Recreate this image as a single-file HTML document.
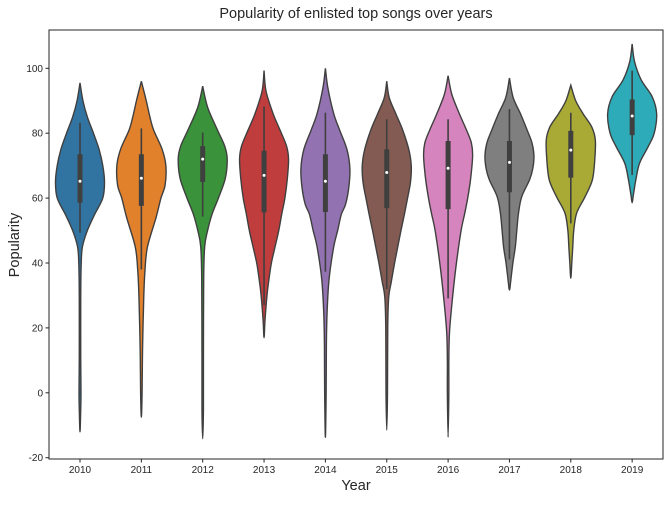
<!DOCTYPE html>
<html><head><meta charset="utf-8">
<style>
body{margin:0;background:#fff;}
svg text{font-family:"Liberation Sans",Arial,sans-serif;fill:#262626;}
</style></head>
<body>
<svg id="chart" width="670" height="500" viewBox="0 0 670 500" xmlns="http://www.w3.org/2000/svg">
<text x="356" y="18" font-size="14.5" text-anchor="middle">Popularity of enlisted top songs over years</text>
<text transform="translate(19,245) rotate(-90)" font-size="14.5" text-anchor="middle">Popularity</text>
<text x="356" y="490" font-size="14.5" text-anchor="middle">Year</text>
<g id="violins"></g>
<g id="axes"></g>
</svg>
<script>
const years = ["2010","2011","2012","2013","2014","2015","2016","2017","2018","2019"];
const colors = ["#3274a1","#e1812c","#3a923a","#c03d3e","#9372b2","#845b53","#d684bd","#7f7f7f","#a9aa35","#2eabb8"];
const yTicks = [-20,0,20,40,60,80,100];
// density profiles: [value, relative half width]
const profile2010 = [[95.5,0],[90,0.12],[85,0.3],[80,0.55],[75,0.78],[70,0.93],[65,1],[60,0.93],[55,0.6],[50,0.3],[45,0.1],[40,0.05],[30,0.03],[10,0.03],[0,0.04],[-5,0.03],[-12,0]];
const profile2011 = [[96,0],[90,0.2],[85,0.35],[81,0.5],[75,0.85],[70,1],[64,0.97],[60,0.8],[54,0.6],[45,0.25],[38,0.15],[30,0.1],[14,0.05],[0,0.03],[-7.5,0]];
const profile2012 = [[94.5,0],[88,0.2],[81,0.6],[76,0.9],[72,1],[66,0.92],[60,0.64],[55,0.38],[50,0.2],[45,0.08],[35,0.04],[10,0.03],[-5,0.03],[-14.2,0]];
const profile2013 = [[99.3,0],[93,0.08],[86,0.37],[81,0.65],[76,0.92],[72,1],[66,0.95],[60,0.85],[55,0.72],[50,0.6],[45,0.45],[40,0.3],[35,0.2],[30,0.12],[22.5,0.04],[17,0]];
const profile2014 = [[100,0],[94,0.1],[86,0.34],[81,0.58],[75,0.88],[69,1],[63,0.95],[58,0.82],[55,0.65],[50,0.5],[45,0.34],[35,0.15],[25,0.07],[15,0.04],[0,0.03],[-13.7,0]];
const profile2015 = [[96,0],[91,0.1],[86,0.37],[81,0.65],[75,0.9],[70,1],[65,0.97],[60,0.85],[55,0.72],[50,0.58],[45,0.45],[40,0.32],[34,0.18],[29.5,0.08],[20,0.04],[0,0.03],[-11.5,0]];
const profile2016 = [[97.7,0],[92,0.15],[86,0.46],[81,0.75],[77,0.95],[73,1],[66,0.92],[60,0.8],[55,0.67],[50,0.53],[40,0.34],[30,0.19],[19,0.06],[10,0.03],[0,0.03],[-13.7,0]];
const profile2017 = [[97,0],[91,0.15],[86,0.45],[81,0.72],[77,0.92],[73,1],[69,0.95],[65.6,0.82],[60.4,0.5],[55.4,0.37],[50,0.3],[45,0.24],[40,0.14],[35,0.06],[31.7,0]];
const profile2018 = [[94.8,0],[90,0.2],[86,0.5],[82,0.85],[78,1],[72,0.98],[65.6,0.88],[60.4,0.58],[55.4,0.24],[50,0.12],[45,0.08],[40,0.04],[35.3,0]];
const profile2019 = [[107.5,0],[102,0.1],[96.4,0.37],[91.2,0.82],[86,1],[80,0.9],[75.8,0.65],[70.7,0.3],[65.6,0.15],[61,0.05],[58.6,0]];
const profiles = [profile2010,profile2011,profile2012,profile2013,profile2014,profile2015,profile2016,profile2017,profile2018,profile2019];
const q1s = [58.6,57.6,65,55.6,55.7,56.9,56.6,61.8,66.3,79.4];
const q3s = [73.5,73.5,76,74.6,73.5,75,77.6,77.6,80.7,90.4];
const medians = [65.2,66.1,72,67,65.2,67.9,69.2,71,74.8,85.3];
const whiskLow = [49.3,38,54.3,27,37.3,32,29.1,41.1,52.2,67.1];
const whiskHigh = [83.2,81.5,80.2,88.2,86.3,84.3,84.3,87.4,86.3,99.3];

const L=49,R=663,T=30,B=459;
const y = v => 392.8 - v*3.245;
const x = i => 80 + i*61.35;
const maxHalf = 24.5;
const NS="http://www.w3.org/2000/svg";
function mk(tag, attrs, parent){const e=document.createElementNS(NS,tag);for(const k in attrs)e.setAttribute(k,attrs[k]);parent.appendChild(e);return e;}
function catmull(pts){
  let d="M"+pts[0][0]+","+pts[0][1];
  for(let i=0;i<pts.length-1;i++){
    const p0=pts[Math.max(i-1,0)],p1=pts[i],p2=pts[i+1],p3=pts[Math.min(i+2,pts.length-1)];
    const c1=[p1[0]+(p2[0]-p0[0])/6,p1[1]+(p2[1]-p0[1])/6];
    const c2=[p2[0]-(p3[0]-p1[0])/6,p2[1]-(p3[1]-p1[1])/6];
    d+=" C"+c1[0]+","+c1[1]+" "+c2[0]+","+c2[1]+" "+p2[0]+","+p2[1];
  }
  return d;
}
const vg=document.getElementById("violins");
years.forEach((yr,i)=>{
  const cx=x(i), prof=profiles[i];
  const right=prof.map(p=>[cx+p[1]*maxHalf,y(p[0])]);
  const left=prof.slice().reverse().map(p=>[cx-p[1]*maxHalf,y(p[0])]);
  const pts=right.concat(left.slice(1));
  const g=mk("g",{},vg);
  
  
  const path=mk("path",{d:catmull(pts)+" Z",fill:colors[i],stroke:"#3f3f3f","stroke-width":"1.4"},g);
  
  
  const wl=mk("line",{x1:cx,x2:cx,y1:y(whiskHigh[i]),y2:y(whiskLow[i]),stroke:"#3f3f3f","stroke-width":"1.6"},g);
  
  
  const bx=mk("line",{x1:cx,x2:cx,y1:y(q3s[i]),y2:y(q1s[i]),stroke:"#3f3f3f","stroke-width":"5"},g);
  
  
  const md=mk("circle",{cx:cx,cy:y(medians[i]),r:1.5,fill:"#fff"},g);
  
  
});
const ag=document.getElementById("axes");
const frame=mk("rect",{x:L,y:T,width:R-L,height:B-T,fill:"none",stroke:"#262626","stroke-width":"1"},ag);


yTicks.forEach(t=>{
  const yy=y(t);
  const tk=mk("line",{x1:L-3.5,x2:L,y1:yy,y2:yy,stroke:"#262626","stroke-width":"1"},ag);
  
  
  const tx=mk("text",{x:L-6,y:yy+3.5,"font-size":"10","text-anchor":"end"},ag);
  tx.textContent=t;
  
  
});
years.forEach((yr,i)=>{
  const xx=x(i);
  const tk=mk("line",{x1:xx,x2:xx,y1:B,y2:B+3.5,stroke:"#262626","stroke-width":"1"},ag);
  
  
  const tx=mk("text",{x:xx,y:B+14,"font-size":"10","text-anchor":"middle"},ag);
  tx.textContent=yr;
  
  
});
</script>
</body></html>
